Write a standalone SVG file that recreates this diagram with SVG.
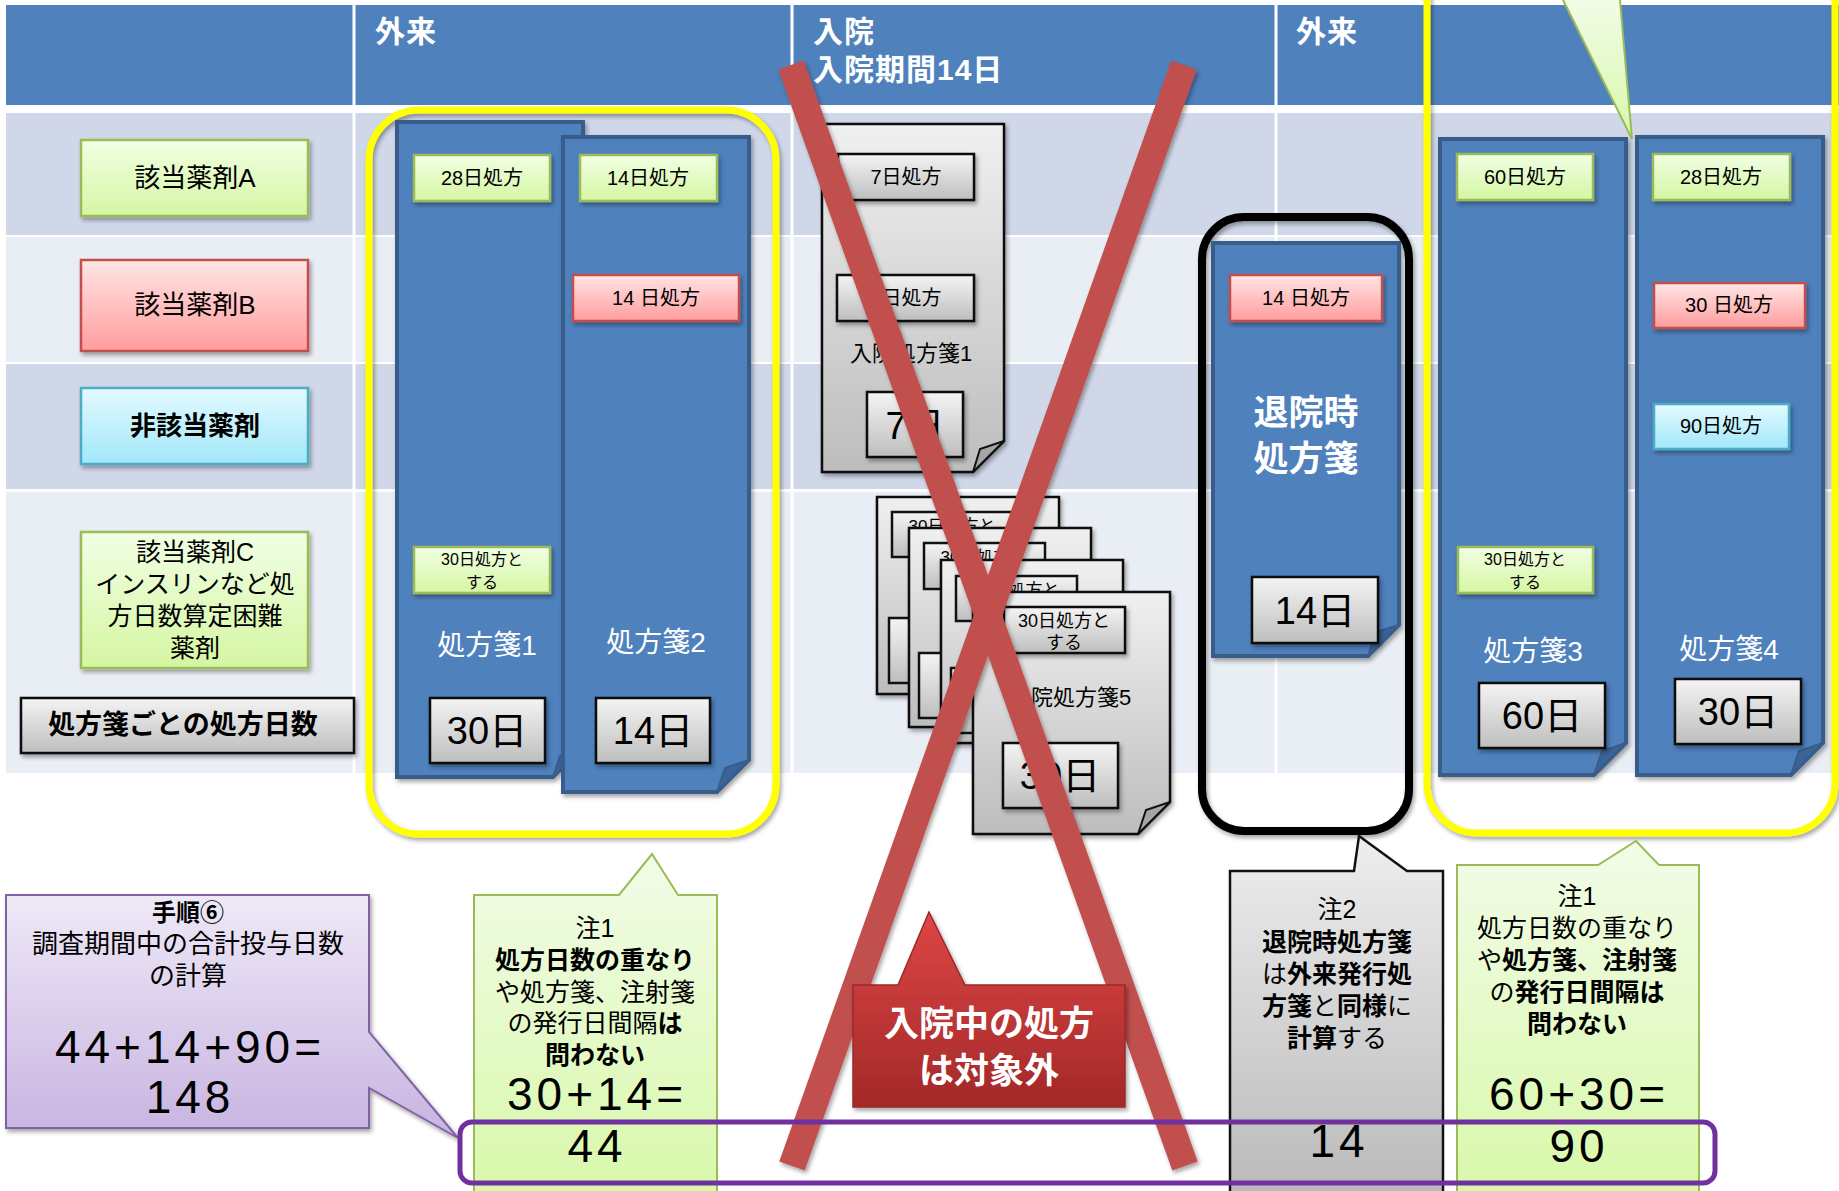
<svg xmlns="http://www.w3.org/2000/svg" width="1839" height="1191" viewBox="0 0 1839 1191">
<defs>
<linearGradient id="gG" x1="0" y1="0" x2="0" y2="1"><stop offset="0" stop-color="#F1FFE4"/><stop offset="1" stop-color="#D5F6A2"/></linearGradient>
<linearGradient id="gP" x1="0" y1="0" x2="0" y2="1"><stop offset="0" stop-color="#FFE5E5"/><stop offset="1" stop-color="#FF9D9D"/></linearGradient>
<linearGradient id="gC" x1="0" y1="0" x2="0" y2="1"><stop offset="0" stop-color="#E3FAFF"/><stop offset="1" stop-color="#A1E7F9"/></linearGradient>
<linearGradient id="gS" x1="0" y1="0" x2="0" y2="1"><stop offset="0" stop-color="#F4F4F4"/><stop offset="1" stop-color="#BEBEBE"/></linearGradient>
<linearGradient id="gD" x1="0" y1="0" x2="0" y2="1"><stop offset="0" stop-color="#F0F0F0"/><stop offset="1" stop-color="#BDBDBD"/></linearGradient>
<linearGradient id="gNG" x1="0" y1="0" x2="0" y2="1"><stop offset="0" stop-color="#F2FCE8"/><stop offset="1" stop-color="#D8F8A9"/></linearGradient>
<linearGradient id="gNS" x1="0" y1="0" x2="0" y2="1"><stop offset="0" stop-color="#EEEEEE"/><stop offset="1" stop-color="#B9B9B9"/></linearGradient>
<linearGradient id="gPu" x1="0" y1="0" x2="0" y2="1"><stop offset="0" stop-color="#EFE9F7"/><stop offset="1" stop-color="#C7B3E1"/></linearGradient>
<linearGradient id="gR" x1="0" y1="0" x2="0" y2="1"><stop offset="0" stop-color="#DE4646"/><stop offset="1" stop-color="#A32828"/></linearGradient>
<filter id="sh" x="-10%" y="-10%" width="130%" height="130%"><feDropShadow dx="2" dy="3" stdDeviation="2" flood-color="#000" flood-opacity="0.35"/></filter>
<style>
text{font-family:"Liberation Sans","Noto Sans CJK JP","Noto Sans CJK SC",sans-serif;fill:#000}
.hd{font-size:30px;fill:#fff;font-weight:bold;letter-spacing:1px}
.lbl{font-size:20px;text-anchor:middle}
.sm{font-size:16px;text-anchor:middle}
.side{font-size:26px;text-anchor:middle}
.wt{font-size:28px;fill:#fff;text-anchor:middle}
.day{font-size:38px;text-anchor:middle}
.num{font-size:46px;text-anchor:middle;letter-spacing:4px}
.note{font-size:25px;text-anchor:middle}
.b{font-weight:bold}
.lg{fill:url(#gG);stroke:#9BBB59;stroke-width:2.5}
.lp{fill:url(#gP);stroke:#C0504D;stroke-width:2.5}
.lc{fill:url(#gC);stroke:#4BACC6;stroke-width:2.5}
.ls{fill:url(#gS);stroke:#111;stroke-width:2.5}
.fold{fill:#4F81BD;stroke:#385D8A;stroke-width:4}
.foldc{fill:#3A6398;stroke:#385D8A;stroke-width:2}
.doc{fill:url(#gD);stroke:#111;stroke-width:2.5}
.docc{fill:#A6A6A6;stroke:#111;stroke-width:2}
</style>
</defs>

<g id="table">
<rect x="6" y="5" width="1833" height="100" fill="#4F81BD"/>
<rect x="6" y="113" width="1833" height="122" fill="#CFD7E8"/>
<rect x="6" y="237" width="1833" height="125" fill="#E9EDF4"/>
<rect x="6" y="364" width="1833" height="125" fill="#CFD7E8"/>
<rect x="6" y="492" width="1833" height="281" fill="#E9EDF4"/>
<g stroke="#fff" stroke-width="3">
<line x1="354" y1="5" x2="354" y2="773"/>
<line x1="792" y1="5" x2="792" y2="773"/>
<line x1="1276" y1="5" x2="1276" y2="773"/>
</g>
<text class="hd" x="375" y="42">外来</text>
<text class="hd"><tspan x="813" y="42">入院</tspan><tspan x="813" y="80">入院期間14日</tspan></text>
<text class="hd" x="1296" y="42">外来</text>
</g>

<g id="row-labels">
<rect class="lg" x="81" y="140" width="227" height="76" filter="url(#sh)"/>
<text class="side" x="195" y="187">該当薬剤A</text>
<rect class="lp" x="81" y="260" width="227" height="91" filter="url(#sh)"/>
<text class="side" x="195" y="314">該当薬剤B</text>
<rect class="lc" x="81" y="388" width="227" height="76" filter="url(#sh)"/>
<text class="side b" x="195" y="435">非該当薬剤</text>
<rect class="lg" x="81" y="532" width="227" height="136" filter="url(#sh)"/>
<text class="side" style="font-size:25px"><tspan x="195" y="561">該当薬剤C</tspan><tspan x="195" y="593">インスリンなど処</tspan><tspan x="195" y="625">方日数算定困難</tspan><tspan x="195" y="657">薬剤</tspan></text>
<rect class="ls" x="21" y="698" width="333" height="55" filter="url(#sh)"/>
<text class="side b" x="183" y="734" style="font-size:27px">処方箋ごとの処方日数</text>
</g>

<g id="outpatient-group1">
<rect x="369" y="110" width="407" height="724" rx="50" fill="none" stroke="#FFFF00" stroke-width="7" filter="url(#sh)"/>
</g>

<g id="rx1">
<path class="fold" d="M397,122 H583 V747 L553,777 H397 Z" filter="url(#sh)"/>
<path class="foldc" d="M583,747 L553,777 L560,756 Z"/>
<rect class="lg" x="414" y="155" width="136" height="46" filter="url(#sh)"/>
<text class="lbl" x="482" y="185">28日処方</text>
<rect class="lg" x="414" y="547" width="136" height="46" filter="url(#sh)"/>
<text class="sm"><tspan x="482" y="565">30日処方と</tspan><tspan x="482" y="588">する</tspan></text>
<text class="wt" x="487" y="655">処方箋1</text>
<rect class="ls" x="430" y="698" width="115" height="65" filter="url(#sh)"/>
<text class="day" x="487" y="744">30日</text>
</g>

<g id="rx2">
<path class="fold" d="M563,137 H749 V760 L717,792 H563 Z" filter="url(#sh)"/>
<path class="foldc" d="M749,760 L717,792 L725,768 Z"/>
<rect class="lg" x="580" y="155" width="137" height="46" filter="url(#sh)"/>
<text class="lbl" x="648" y="185">14日処方</text>
<rect class="lp" x="573" y="275" width="166" height="46" filter="url(#sh)"/>
<text class="lbl" x="656" y="305">14 日処方</text>
<text class="wt" x="656" y="652">処方箋2</text>
<rect class="ls" x="596" y="698" width="114" height="65" filter="url(#sh)"/>
<text class="day" x="653" y="744">14日</text>
</g>

<g id="inpatient-rx1">
<path class="doc" d="M822,124 H1004 V441 L973,472 H822 Z" filter="url(#sh)"/>
<path class="docc" d="M1004,441 L973,472 L980,449 Z"/>
<rect class="ls" x="838" y="154" width="136" height="46" filter="url(#sh)"/>
<text class="lbl" x="906" y="184">7日処方</text>
<rect class="ls" x="837" y="275" width="137" height="46" filter="url(#sh)"/>
<text class="lbl" x="906" y="305">7日処方</text>
<text class="lbl" x="911" y="361" style="font-size:22px">入院処方箋1</text>
<rect class="ls" x="867" y="392" width="96" height="65" filter="url(#sh)"/>
<text class="day" x="915" y="439">7日</text>
</g>

<g id="inpatient-rx-stack">
<rect class="doc" x="877" y="497" width="182" height="197" filter="url(#sh)"/>
<rect class="ls" x="892" y="512" width="121" height="45"/>
<text class="sm" x="952" y="532" style="font-size:17px">30日処方と</text>
<rect class="ls" x="889" y="618" width="96" height="65"/>
<rect class="doc" x="909" y="528" width="182" height="199" filter="url(#sh)"/>
<rect class="ls" x="924" y="543" width="121" height="46"/>
<text class="sm" x="984" y="563" style="font-size:17px">30日処方と</text>
<rect class="ls" x="919" y="653" width="96" height="65"/>
<rect class="doc" x="941" y="560" width="182" height="183" filter="url(#sh)"/>
<rect class="ls" x="956" y="576" width="121" height="45"/>
<text class="sm" x="1016" y="596" style="font-size:17px">30日処方と</text>
<rect class="ls" x="951" y="668" width="96" height="65"/>
<path class="doc" d="M973,592 H1170 V802 L1138,834 H973 Z" filter="url(#sh)"/>
<path class="docc" d="M1170,802 L1138,834 L1146,810 Z"/>
<rect class="ls" x="1004" y="607" width="121" height="46" filter="url(#sh)"/>
<text class="sm" style="font-size:18px"><tspan x="1064" y="627">30日処方と</tspan><tspan x="1064" y="649">する</tspan></text>
<text class="lbl" x="1070" y="705" style="font-size:22px">入院処方箋5</text>
<rect class="ls" x="1003" y="743" width="115" height="65" filter="url(#sh)"/>
<text class="day" x="1060" y="789">30日</text>
</g>

<g id="discharge-rx">
<rect x="1202" y="217" width="207" height="614" rx="42" fill="none" stroke="#000" stroke-width="8" filter="url(#sh)"/>
<path class="fold" d="M1213,243 H1399 V625 L1368,656 H1213 Z" filter="url(#sh)"/>
<path class="foldc" d="M1399,625 L1368,656 L1376,632 Z"/>
<rect class="lp" x="1230" y="275" width="152" height="46" filter="url(#sh)"/>
<text class="lbl" x="1306" y="305">14 日処方</text>
<text class="wt b" style="font-size:35px"><tspan x="1306" y="425">退院時</tspan><tspan x="1306" y="471">処方箋</tspan></text>
<rect class="ls" x="1252" y="577" width="126" height="66" filter="url(#sh)"/>
<text class="day" x="1315" y="624">14日</text>
</g>

<g id="outpatient-group2">
<rect x="1427" y="-100" width="408" height="933" rx="50" fill="none" stroke="#FFFF00" stroke-width="7" filter="url(#sh)"/>
<polygon points="1563,-2 1620,-2 1632,139" fill="url(#gNG)"/>
<polyline points="1563,0 1632,139 1620,0" fill="none" stroke="#9BBB59" stroke-width="2"/>
</g>

<g id="rx3">
<path class="fold" d="M1440,139 H1626 V743 L1594,775 H1440 Z" filter="url(#sh)"/>
<path class="foldc" d="M1626,743 L1594,775 L1602,751 Z"/>
<rect class="lg" x="1457" y="154" width="136" height="46" filter="url(#sh)"/>
<text class="lbl" x="1525" y="184">60日処方</text>
<rect class="lg" x="1458" y="547" width="135" height="46" filter="url(#sh)"/>
<text class="sm"><tspan x="1525" y="565">30日処方と</tspan><tspan x="1525" y="588">する</tspan></text>
<text class="wt" x="1533" y="661">処方箋3</text>
<rect class="ls" x="1479" y="683" width="126" height="65" filter="url(#sh)"/>
<text class="day" x="1542" y="729">60日</text>
</g>

<g id="rx4">
<path class="fold" d="M1637,137 H1823 V743 L1791,775 H1637 Z" filter="url(#sh)"/>
<path class="foldc" d="M1823,743 L1791,775 L1799,751 Z"/>
<rect class="lg" x="1653" y="154" width="137" height="46" filter="url(#sh)"/>
<text class="lbl" x="1721" y="184">28日処方</text>
<rect class="lp" x="1654" y="283" width="151" height="45" filter="url(#sh)"/>
<text class="lbl" x="1729" y="312">30 日処方</text>
<rect class="lc" x="1654" y="404" width="135" height="45" filter="url(#sh)"/>
<text class="lbl" x="1721" y="433">90日処方</text>
<text class="wt" x="1729" y="659">処方箋4</text>
<rect class="ls" x="1675" y="679" width="126" height="65" filter="url(#sh)"/>
<text class="day" x="1738" y="725">30日</text>
</g>

<g id="callout-step6">
<path d="M6,895 H369 V1032 L458,1138 L369,1088 V1128 H6 Z" fill="url(#gPu)" stroke="#8064A2" stroke-width="2" filter="url(#sh)"/>
<text class="note" style="font-size:26px"><tspan class="b" x="188" y="921" style="font-size:24px">手順⑥</tspan><tspan x="188" y="953">調査期間中の合計投与日数</tspan><tspan x="188" y="985">の計算</tspan></text>
<text class="num"><tspan x="190" y="1063">44+14+90=</tspan><tspan x="190" y="1113">148</tspan></text>
</g>

<g id="callout-note1-left">
<path d="M474,895 H619 L652,854 L678,895 H717 V1200 H474 Z" fill="url(#gNG)" stroke="#9BBB59" stroke-width="2"/>
<text class="note"><tspan x="595" y="937">注1</tspan><tspan class="b" x="595" y="969">処方日数の重なり</tspan><tspan x="595" y="1001">や処方箋、注射箋</tspan><tspan x="595" y="1032">の発行日間隔<tspan class="b">は</tspan></tspan><tspan class="b" x="595" y="1064">問わない</tspan></text>
<text class="num"><tspan x="597" y="1110">30+14=</tspan><tspan x="597" y="1162">44</tspan></text>
</g>

<g id="callout-note2">
<path d="M1230,871 H1354 L1359,836 L1407,871 H1443 V1200 H1230 Z" fill="url(#gNS)" stroke="#111" stroke-width="2.5"/>
<text class="note"><tspan x="1337" y="918">注2</tspan><tspan class="b" x="1337" y="951">退院時処方箋</tspan><tspan x="1337" y="983">は<tspan class="b">外来発行処</tspan></tspan><tspan x="1337" y="1015"><tspan class="b">方箋</tspan>と<tspan class="b">同様</tspan>に</tspan><tspan x="1337" y="1047"><tspan class="b">計算</tspan>する</tspan></text>
<text class="num" x="1339" y="1157">14</text>
</g>

<g id="callout-note1-right">
<path d="M1457,865 H1598 L1636,841 L1659,865 H1699 V1200 H1457 Z" fill="url(#gNG)" stroke="#9BBB59" stroke-width="2"/>
<text class="note"><tspan x="1577" y="905">注1</tspan><tspan x="1577" y="937">処方日数の重なり</tspan><tspan x="1577" y="969">や<tspan class="b">処方箋、注射箋</tspan></tspan><tspan x="1577" y="1001">の<tspan class="b">発行日間隔は</tspan></tspan><tspan class="b" x="1577" y="1033">問わない</tspan></text>
<text class="num"><tspan x="1579" y="1110">60+30=</tspan><tspan x="1579" y="1162">90</tspan></text>
</g>

<g id="connectors">
<g stroke="#C0504D" stroke-width="27" stroke-linecap="butt" filter="url(#sh)">
<line x1="791" y1="65" x2="1185" y2="1166"/>
<line x1="1184" y1="65" x2="792" y2="1166"/>
</g>
</g>

<g id="callout-inpatient">
<path d="M853,985 H898 L929,912 L965,985 H1125 V1107 H853 Z" fill="url(#gR)" stroke="#9A2A2A" stroke-width="1.5" filter="url(#sh)"/>
<text class="b" style="font-size:35px;fill:#fff;text-anchor:middle"><tspan x="989" y="1036">入院中の処方</tspan><tspan x="989" y="1083">は対象外</tspan></text>
</g>

<g id="sum-frame">
<rect x="460" y="1122" width="1255" height="61" rx="12" fill="none" stroke="#7030A0" stroke-width="5"/>
</g>
</svg>
